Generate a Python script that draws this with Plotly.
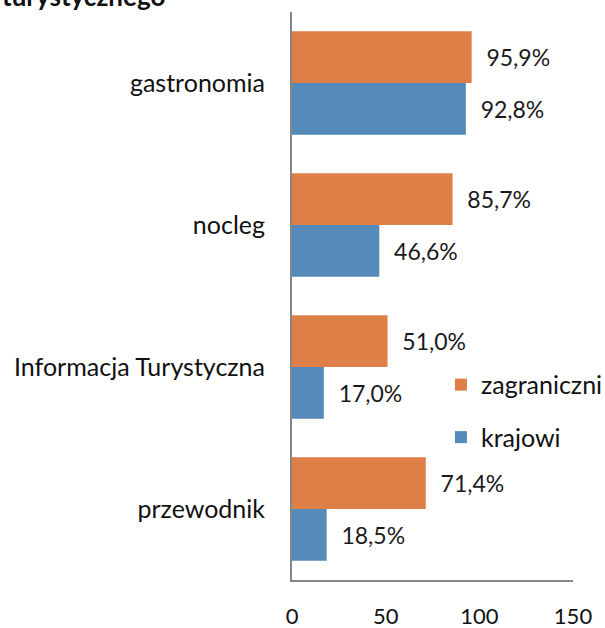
import plotly.graph_objects as go

# kategorie od góry do dołu
kategorie = ["gastronomia", "nocleg", "Informacja Turystyczna", "przewodnik"]
zagraniczni = [95.9, 85.7, 51.0, 71.4]
krajowi = [92.8, 46.6, 17.0, 18.5]
x_ticks = [0, 50, 100, 150]

POMARANCZ = "#DE7F47"
NIEBIESKI = "#548BBA"
FONT = "Lato"


def etykiety(vals):
    # format z przecinkiem dziesiętnym, odstęp od końca słupka
    return ["  " + f"{v:.1f}".replace(".", ",") + "%" for v in vals]


fig = go.Figure()
fig.add_trace(go.Bar(
    y=kategorie, x=zagraniczni, name="zagraniczni", orientation="h",
    marker=dict(color=POMARANCZ, line=dict(width=0)),
    text=etykiety(zagraniczni), textposition="outside",
    textfont=dict(size=23, color="#1a1a1a"), constraintext="none",
    cliponaxis=False, legendgroup="a",
))
fig.add_trace(go.Bar(
    y=kategorie, x=krajowi, name="krajowi", orientation="h",
    marker=dict(color=NIEBIESKI, line=dict(width=0)),
    text=etykiety(krajowi), textposition="outside",
    textfont=dict(size=23, color="#1a1a1a"), constraintext="none",
    cliponaxis=False, legendgroup="b",
))

fig.update_layout(
    width=605,
    height=628,
    margin=dict(t=12, l=292, r=32, b=48, autoexpand=False),
    plot_bgcolor="white",
    paper_bgcolor="white",
    font=dict(family=FONT, size=25, color="#111"),
    barmode="group",
    bargap=0.27,
    bargroupgap=0,
    showlegend=True,
    legend=dict(
        x=0.53, y=0.384, xanchor="left", yanchor="top",
        font=dict(size=25), tracegroupgap=17,
        bgcolor="rgba(0,0,0,0)",
    ),
    xaxis=dict(
        range=[0, 150], tickvals=x_ticks, showgrid=False, zeroline=False,
        showline=True, linecolor="#868686", linewidth=2, ticks="",
        ticklabelstandoff=16, tickfont=dict(size=22), automargin=False,
    ),
    yaxis=dict(
        autorange="reversed", showgrid=False, showline=True,
        linecolor="#868686", linewidth=2, ticks="",
        ticklabelstandoff=20, tickfont=dict(size=25), automargin=False,
    ),
)

# tytuł ucięty u góry obrazka
fig.add_annotation(
    text="<b>turystycznego</b>", xref="paper", yref="paper",
    x=-1.04, y=1.0, xanchor="left", yanchor="bottom", yshift=-2,
    showarrow=False, font=dict(size=26, color="#111"),
)

# bez marginesu strony, żeby wykres zaczynał się w lewym górnym rogu
fig.write_html(
    "out.html",
    config={"displayModeBar": False},
    post_script="document.body.style.margin='0';",
)
